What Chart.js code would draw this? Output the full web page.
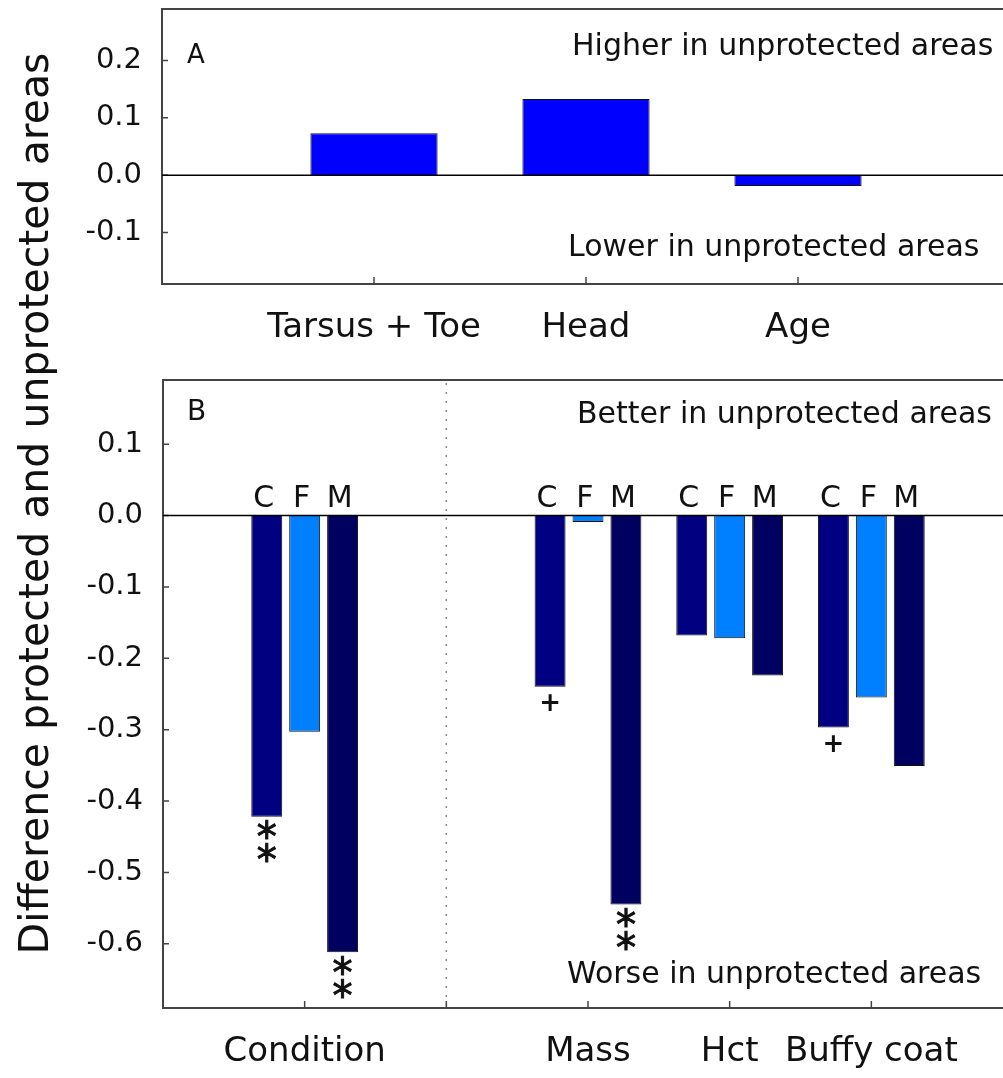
<!DOCTYPE html>
<html>
<head>
<meta charset="utf-8">
<script src="https://cdn.jsdelivr.net/npm/chart.js@4.4.0/dist/chart.umd.min.js"></script>
<style>
  html, body { margin: 0; padding: 0; background: #fff; overflow: hidden; }
  #wrapA { position: absolute; left: 0; top: 0; width: 1010px; height: 360px; z-index: 2; }
  #wrapB { position: absolute; left: 0; top: 0; width: 1013px; height: 1078px; z-index: 1; }
</style>
</head>
<body>
<div id="wrapB"><canvas id="chartB"></canvas></div>
<div id="wrapA"><canvas id="chartA"></canvas></div>
<script>
// panel A: body size measures
const catsA = ['', 'Tarsus + Toe', 'Head', 'Age', ''];
const valuesA = [null, 0.073, 0.133, -0.019, null];

// panel B: condition measures, one series per index
const catsB = ['', 'Condition', '', 'Mass', 'Hct', 'Buffy coat', ''];
const seriesNames = ['C', 'F', 'M'];
const valuesC = [null, -0.422, null, -0.240, -0.168, -0.297, null];
const valuesF = [null, -0.303, null, -0.009, -0.172, -0.255, null];
const valuesM = [null, -0.612, null, -0.545, -0.224, -0.351, null];
const marksC = ['', '**', '', '+', '', '+', ''];
const marksF = ['', '', '', '', '', '', ''];
const marksM = ['', '**', '', '**', '', '', ''];

const yTitle = 'Difference protected and unprotected areas';
const FONT = "'DejaVu Sans', sans-serif";
const INK = '#111';

// pin axis sizes and drop the label overhang padding chart.js adds
function fixedWidth(w) {
  return scale => { scale.width = w; scale.paddingTop = 0; scale.paddingBottom = 0; };
}
function fixedHeight(h) {
  return scale => { scale.height = h; scale.paddingLeft = 0; scale.paddingRight = 0; };
}

// frame, zero line and inward ticks
function drawFrame(chart, xTickIdx) {
  const { ctx, chartArea: a, scales: { x, y } } = chart;
  ctx.save();
  ctx.strokeStyle = '#444';
  ctx.lineWidth = 2;
  ctx.strokeRect(a.left, a.top, a.right - a.left, a.bottom - a.top);
  ctx.lineWidth = 1.5;
  ctx.beginPath();
  y.ticks.forEach(t => {
    const py = y.getPixelForValue(t.value);
    ctx.moveTo(a.left, py); ctx.lineTo(a.left + 6, py);
  });
  xTickIdx.forEach(i => {
    const px = x.getPixelForValue(i);
    ctx.moveTo(px, a.bottom); ctx.lineTo(px, a.bottom - 7);
  });
  ctx.stroke();
  ctx.strokeStyle = '#000';
  ctx.lineWidth = 1.5;
  const y0 = y.getPixelForValue(0);
  ctx.beginPath();
  ctx.moveTo(a.left, y0); ctx.lineTo(a.right, y0);
  ctx.stroke();
  ctx.restore();
}

function text(ctx, s, x, y, size, align) {
  ctx.font = size + 'px ' + FONT;
  ctx.fillStyle = INK;
  ctx.textAlign = align || 'left';
  ctx.textBaseline = 'alphabetic';
  ctx.fillText(s, x, y);
}

// draw a glyph with its ink centred on (x, y)
function glyph(ctx, s, x, y, font, stroke) {
  ctx.font = font;
  ctx.fillStyle = INK;
  ctx.textAlign = 'center';
  ctx.textBaseline = 'alphabetic';
  const m = ctx.measureText(s);
  const off = (m.actualBoundingBoxAscent - m.actualBoundingBoxDescent) / 2;
  ctx.fillText(s, x, y + off);
  if (stroke) {
    ctx.strokeStyle = INK;
    ctx.lineWidth = stroke;
    ctx.strokeText(s, x, y + off);
  }
}

const commonY = (min, max) => ({
  min: min, max: max,
  grid: { display: false, drawTicks: false },
  border: { display: false },
  ticks: {
    stepSize: 0.1, includeBounds: false, padding: 20, color: INK,
    font: { family: FONT, size: 29 },
    callback: v => (Math.abs(v) < 1e-9 ? 0 : v).toFixed(1)
  }
});

const commonX = {
  grid: { display: false, drawTicks: false },
  border: { display: false },
  offset: false,
  ticks: {
    autoSkip: false, maxRotation: 0, minRotation: 0, padding: 24, color: INK,
    font: { family: FONT, size: 34 }
  }
};

new Chart(document.getElementById('chartA'), {
  type: 'bar',
  data: {
    labels: catsA,
    datasets: [{
      data: valuesA,
      backgroundColor: '#0000ff',
      borderColor: '#111',
      borderWidth: 1,
      categoryPercentage: 1,
      barPercentage: 0.6
    }]
  },
  options: {
    responsive: true,
    maintainAspectRatio: false,
    animation: false,
    layout: { padding: { top: 9, left: 0, right: 0, bottom: 0 } },
    plugins: { legend: { display: false }, tooltip: { enabled: false } },
    scales: {
      x: { ...commonX, afterFit: fixedHeight(76) },
      y: { ...commonY(-0.19, 0.29), afterFit: fixedWidth(162) }
    }
  },
  plugins: [{
    id: 'frameA',
    afterDatasetsDraw(chart) {
      drawFrame(chart, [1, 2, 3]);
      const ctx = chart.ctx;
      text(ctx, 'A', 187, 63, 26);
      text(ctx, 'Higher in unprotected areas', 572, 55, 30);
      text(ctx, 'Lower in unprotected areas', 568, 256, 30);
    }
  }]
});

const colorsB = ['#000080', '#0080ff', '#000060'];
const valuesB = [valuesC, valuesF, valuesM];
const marksB = [marksC, marksF, marksM];

new Chart(document.getElementById('chartB'), {
  type: 'bar',
  data: {
    labels: catsB,
    datasets: seriesNames.map((name, i) => ({
      label: name,
      data: valuesB[i],
      backgroundColor: colorsB[i],
      borderColor: '#111',
      borderWidth: 1,
      categoryPercentage: 0.803,
      barPercentage: 0.816
    }))
  },
  options: {
    responsive: true,
    maintainAspectRatio: false,
    animation: false,
    layout: { padding: { top: 380, left: 0, right: 0, bottom: 0 } },
    plugins: { legend: { display: false }, tooltip: { enabled: false } },
    scales: {
      x: { ...commonX, afterFit: fixedHeight(70) },
      y: { ...commonY(-0.69, 0.19), afterFit: fixedWidth(163) }
    }
  },
  plugins: [{
    id: 'frameB',
    afterDatasetsDraw(chart) {
      const { ctx, chartArea: a, scales: { x, y } } = chart;
      // dotted separator
      ctx.save();
      ctx.strokeStyle = '#888';
      ctx.lineWidth = 1.5;
      ctx.setLineDash([2, 7]);
      const sx = x.getPixelForValue(2);
      ctx.beginPath();
      ctx.moveTo(sx, a.top + 3); ctx.lineTo(sx, a.bottom - 3);
      ctx.stroke();
      ctx.restore();

      drawFrame(chart, [1, 2, 3, 4, 5]);

      const y0 = y.getPixelForValue(0);
      chart.data.datasets.forEach((ds, di) => {
        chart.getDatasetMeta(di).data.forEach((bar, i) => {
          if (ds.data[i] === null) return;
          text(ctx, seriesNames[di], bar.x - 3, y0 - 9, 30, 'center');
          const m = marksB[di][i];
          if (m === '**') {
            glyph(ctx, '*', bar.x, bar.y + 13, '40px ' + FONT, 1);
            glyph(ctx, '*', bar.x, bar.y + 36, '40px ' + FONT, 1);
          } else if (m === '+') {
            glyph(ctx, '+', bar.x, bar.y + 16, 'bold 26px ' + FONT);
          }
        });
      });

      text(ctx, 'B', 187, 420, 28);
      text(ctx, 'Better in unprotected areas', 577, 423, 30);
      text(ctx, 'Worse in unprotected areas', 567, 983, 30);

      // shared y title across both panels
      ctx.save();
      ctx.translate(48, 503.5);
      ctx.rotate(-Math.PI / 2);
      text(ctx, yTitle, 0, 0, 41, 'center');
      ctx.restore();
    }
  }]
});
</script>
</body>
</html>
